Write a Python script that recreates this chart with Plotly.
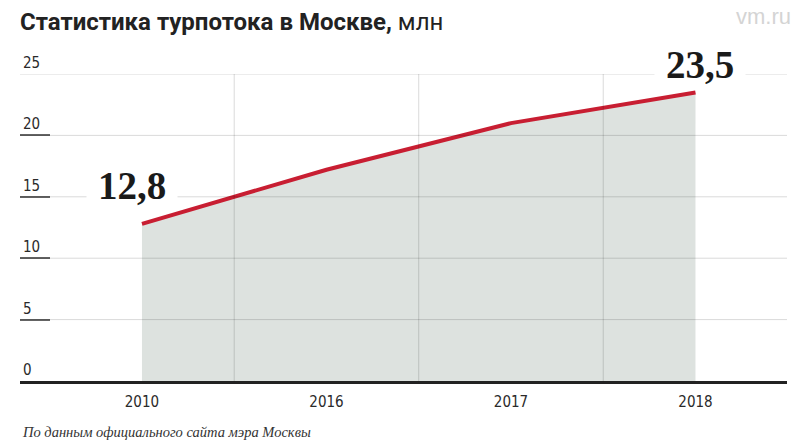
import plotly.graph_objects as go

years = ["2010", "2016", "2017", "2018"]
values = [12.8, 17.2, 21.0, 23.5]
y_ticks = [0, 5, 10, 15, 20, 25]

title_bold = "Статистика турпотока в Москве,"
title_unit = "млн"
source_text = "По данным официального сайта мэра Москвы"
watermark = "vm.ru"

RED = "#c81e32"
FILL = "#dde2df"
GRID = "rgba(0,0,0,0.15)"
TXT = "#2a2a2a"
COND = "Liberation Sans Narrow, DejaVu Sans Condensed, Roboto, sans-serif"

xs = list(range(len(years)))

fig = go.Figure()
fig.add_trace(go.Scatter(
    x=xs, y=values, mode="lines", fill="tozeroy", fillcolor=FILL,
    line=dict(color=RED, width=4), hoverinfo="skip", showlegend=False,
))

shapes = []
for t in y_ticks[1:]:
    shapes.append(dict(type="line", xref="paper", x0=0, x1=1, yref="y", y0=t, y1=t,
                       line=dict(color=GRID, width=1), layer="above"))
for i in range(len(years) - 1):
    shapes.append(dict(type="line", xref="x", x0=i + 0.5, x1=i + 0.5, yref="y",
                       y0=y_ticks[0], y1=y_ticks[-1],
                       line=dict(color=GRID, width=1), layer="above"))

def fmt(v):
    return f"{v:.1f}".replace(".", ",")

LABEL_FONT = dict(family="Liberation Serif, DejaVu Serif, serif", size=39,
                  color="#1a1a1a", weight="bold")

annotations = [
    dict(x=xs[0], y=values[0], xref="x", yref="y", text=fmt(values[0]),
         showarrow=False, xshift=-10, yshift=39, width=90, height=44,
         bgcolor="white", borderpad=0, font=LABEL_FONT),
    dict(x=xs[-1], y=values[-1], xref="x", yref="y", text=fmt(values[-1]),
         showarrow=False, xshift=5, yshift=28, width=90, height=40,
         bgcolor="white", borderpad=0, font=LABEL_FONT),
    dict(x=0, y=-0.166, xref="paper", yref="paper", xanchor="left", yanchor="middle",
         text=source_text, showarrow=False,
         font=dict(family="Liberation Serif, DejaVu Serif, serif", size=14.5,
                   color="#333333", style="italic")),
    dict(x=1.0078, y=1.186, xref="paper", yref="paper", xanchor="right", yanchor="middle",
         text=watermark, showarrow=False,
         font=dict(family="Liberation Sans, Arial, sans-serif", size=22, color="#d4d4d4")),
]

fig.update_layout(
    width=800, height=440,
    margin=dict(l=20, r=13, t=74, b=59),
    paper_bgcolor="white", plot_bgcolor="white",
    title=dict(text=f"<b>{title_bold}</b> {title_unit}", xref="container", yref="container",
               x=20 / 800, xanchor="left", y=1 - 22 / 440, yanchor="middle",
               font=dict(family="Roboto, sans-serif", size=24, color="#222222")),
    shapes=shapes, annotations=annotations,
    xaxis=dict(range=[-0.661, 3.496], tickmode="array", tickvals=xs, ticktext=years,
               showgrid=False, zeroline=False, showline=True, linecolor="#222222",
               linewidth=2.5, ticks="", ticklabelstandoff=5,
               tickfont=dict(family=COND, size=15, color=TXT), fixedrange=True),
    yaxis=dict(range=[0, 25], tickmode="array", tickvals=y_ticks,
               ticktext=[str(t) for t in y_ticks],
               showgrid=False, zeroline=False, showline=False,
               ticks="inside", ticklen=30, tickwidth=1.5, tickcolor="#666666",
               ticklabelposition="inside top", ticklabeloverflow="allow",
               tickfont=dict(family=COND, size=15, color=TXT), fixedrange=True),
)

fig.write_html(
    "out.html",
    config={"displayModeBar": False},
    post_script="document.body.style.margin='0';document.body.style.overflow='hidden';",
)
